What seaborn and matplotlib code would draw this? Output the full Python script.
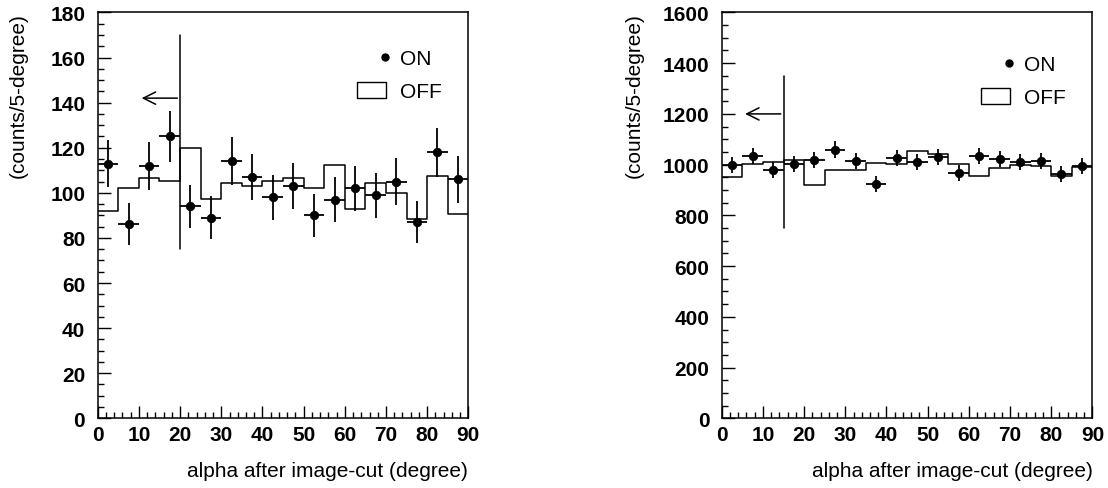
import numpy as np
import pandas as pd
import matplotlib
matplotlib.use("Agg")
import matplotlib.pyplot as plt
import seaborn as sns
from matplotlib.ticker import MultipleLocator
from matplotlib.lines import Line2D
from matplotlib.patches import Patch
from matplotlib.legend_handler import HandlerLine2D

# bins de alpha (5 graus)
edges = np.arange(0, 95, 5)
centers = edges[:-1] + 2.5

# painel esquerdo
on_left = [113, 86, 112, 125, 94, 89, 114, 107, 98, 103, 90, 97, 102, 99, 105, 87, 118, 106]
off_left = [91.8, 102, 106.4, 105.4, 120, 97.2, 104.2, 102.9, 105.4, 106.4, 102, 112.2,
            92.7, 104.2, 99.8, 88.2, 107.6, 90.4]

# painel direito
on_right = [998, 1035, 980, 1001, 1018, 1059, 1013, 923, 1025, 1009, 1029, 966,
            1035, 1022, 1009, 1013, 963, 993]
off_right = [952, 1002, 1009, 1018, 920, 979, 979, 1005, 1001, 1055, 1043, 1001,
             956, 985, 998, 996, 954, 992]

# corte em alpha e limites
cut_left, cut_right = 20, 15
ymax_left, ymax_right = 180, 1600

sns.set_style("white")
plt.rcParams['font.family'] = ['Liberation Sans', 'DejaVu Sans']
plt.rcParams['text.color'] = 'black'
plt.rcParams['xtick.color'] = 'black'
plt.rcParams['ytick.color'] = 'black'

FS = 15


class MarkerRight(HandlerLine2D):
    # marcador do ON encostado no texto, como no original
    def get_xdata(self, legend, xdescent, ydescent, width, height, fontsize):
        x = width - xdescent - 0.05 * width
        return np.array([x]), np.array([x])


fig = plt.figure(figsize=(11.08, 4.89), dpi=100)
ax1 = fig.add_axes([0.0882, 0.1425, 0.3345, 0.830])
ax2 = fig.add_axes([0.6514, 0.1425, 0.3345, 0.830])


def draw_panel(ax, on, off, cut, ymax, ystep, yminor, line_lo, line_hi, arrow_y,
               ylab_x, leg_y):
    df = pd.DataFrame({"alpha": centers, "on": on, "off": off})
    # histograma OFF
    sns.histplot(data=df, x="alpha", weights="off", binwidth=5, binrange=(0, 90),
                 element="step", fill=False, color="black", linewidth=1.1, ax=ax)
    # pontos ON com erros
    ax.errorbar(df["alpha"], df["on"], xerr=2.5, yerr=np.sqrt(df["on"]),
                fmt="none", ecolor="black", elinewidth=1.3, capsize=0)
    sns.scatterplot(data=df, x="alpha", y="on", color="black", s=38,
                    edgecolor="black", ax=ax, zorder=5)
    # linha de corte e seta
    ax.plot([cut, cut], [line_lo, line_hi], color="black", linewidth=1.1)
    ax.annotate("", xy=(cut - 10, arrow_y), xytext=(cut, arrow_y),
                arrowprops=dict(arrowstyle="->", color="black", lw=1.1,
                                mutation_scale=22))

    ax.set_xlim(0, 90)
    ax.set_ylim(0, ymax)
    ax.xaxis.set_major_locator(MultipleLocator(10))
    ax.xaxis.set_minor_locator(MultipleLocator(2))
    ax.yaxis.set_major_locator(MultipleLocator(ystep))
    ax.yaxis.set_minor_locator(MultipleLocator(yminor))
    ax.tick_params(which="both", direction="in", top=False, right=False,
                   bottom=True, left=True, colors="black")
    ax.tick_params(which="major", length=9, width=1)
    ax.tick_params(which="minor", length=4.5, width=1)
    ax.tick_params(axis="y", pad=9)
    ax.tick_params(axis="x", pad=5)
    for lab in ax.get_xticklabels() + ax.get_yticklabels():
        lab.set_fontweight("bold")
        lab.set_fontsize(FS)
    for sp in ax.spines.values():
        sp.set_color("black")
        sp.set_linewidth(1.1)

    ax.set_xlabel("")
    ax.set_ylabel("")
    ax.text(1.0, -0.105, "alpha after image-cut (degree)", transform=ax.transAxes,
            ha="right", va="top", fontsize=FS)
    ax.text(ylab_x, 1.0, "(counts/5-degree)", transform=ax.transAxes,
            ha="center", va="top", rotation=90, fontsize=FS)

    handles = [Line2D([], [], marker="o", linestyle="none", color="black", markersize=5),
               Patch(facecolor="white", edgecolor="black", linewidth=1)]
    ax.legend(handles, ["ON", "OFF"], loc="upper left", bbox_to_anchor=(0.70, leg_y),
              frameon=False, fontsize=FS, handlelength=1.4, handleheight=0.8,
              labelspacing=0.65, handletextpad=0.65, borderpad=0, borderaxespad=0,
              handler_map={Line2D: MarkerRight(numpoints=1)})


draw_panel(ax1, on_left, off_left, cut_left, ymax_left, 20, 5, 75, 170, 142,
           -0.215, 0.91)
draw_panel(ax2, on_right, off_right, cut_right, ymax_right, 200, 50, 750, 1350, 1200,
           -0.235, 0.895)

fig.savefig("out.png", dpi=100)
